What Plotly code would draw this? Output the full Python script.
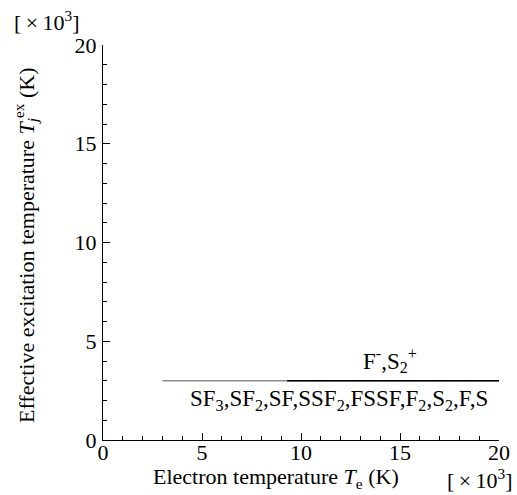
import plotly.graph_objects as go

# Data (x and y in units of 10^3 K)
group1_x = [3.0, 20.0]
group1_y = [3.0, 3.0]
group2_x = [9.3, 20.0]
group2_y = [3.0, 3.0]
label1 = "SF<sub>3</sub>,SF<sub>2</sub>,SF,SSF<sub>2</sub>,FSSF,F<sub>2</sub>,S<sub>2</sub>,F,S"
label2 = "F<sup>-</sup>,S<sub>2</sub><sup>+</sup>"
x_ticks = [0, 5, 10, 15, 20]
y_ticks = [0, 5, 10, 15, 20]

FONT = "Liberation Serif"
FS = 22

fig = go.Figure()
fig.add_trace(go.Scatter(x=group1_x, y=group1_y, mode="lines",
                         line=dict(color="#8c8c8c", width=1.5), showlegend=False))
fig.add_trace(go.Scatter(x=group2_x, y=group2_y, mode="lines",
                         line=dict(color="black", width=1.5), showlegend=False))

axis_common = dict(
    showgrid=False, zeroline=False, showline=True, linecolor="black", linewidth=1,
    ticks="inside", ticklen=7, tickwidth=1.2, tickcolor="black", mirror=False,
    automargin=False,
    tickfont=dict(family=FONT, size=FS, color="black"),
    minor=dict(tick0=0, dtick=1, ticks="inside", ticklen=4, tickwidth=1,
               tickcolor="black", showgrid=False),
)
fig.update_xaxes(range=[0, 20], tickmode="array", tickvals=x_ticks,
                 ticktext=[str(v) for v in x_ticks], ticklabelstandoff=-7, **axis_common)
fig.update_yaxes(range=[0, 20], tickmode="array", tickvals=y_ticks,
                 ticktext=[str(v) for v in y_ticks], ticklabelstandoff=1, **axis_common)

fig.add_annotation(x=14.5, y=3.0, xref="x", yref="y", text=label2, showarrow=False,
                   yanchor="bottom", yshift=3, font=dict(family=FONT, size=23, color="black"))
fig.add_annotation(x=11.9, y=3.0, xref="x", yref="y", text=label1, showarrow=False,
                   yanchor="top", yshift=-3, font=dict(family=FONT, size=23, color="black"))

fig.add_annotation(x=0.437, y=-0.095, xref="paper", yref="paper",
                   text="Electron temperature <i>T</i><sub>e</sub> (K)", showarrow=False,
                   xanchor="center", yanchor="middle", font=dict(family=FONT, size=FS, color="black"))
fig.add_annotation(x=-0.194, y=0.494, xref="paper", yref="paper",
                   text="Effective excitation temperature <i>T</i><sub><i>j</i></sub><sup>ex</sup> (K)",
                   showarrow=False, textangle=-90, xanchor="center", yanchor="middle",
                   font=dict(family=FONT, size=FS, color="black"))
fig.add_annotation(x=0.952, y=-0.098, xref="paper", yref="paper",
                   text="[\u2009×\u200910<sup>3</sup>]", showarrow=False, xanchor="center", yanchor="middle",
                   font=dict(family=FONT, size=FS, color="black"))
fig.add_annotation(x=-0.142, y=1.061, xref="paper", yref="paper",
                   text="[\u2009×\u200910<sup>3</sup>]", showarrow=False, xanchor="center", yanchor="middle",
                   font=dict(family=FONT, size=FS, color="black"))

fig.update_layout(template="none", width=517, height=495,
                  margin=dict(l=103, r=18, t=45, b=55, autoexpand=False),
                  plot_bgcolor="white", paper_bgcolor="white")
fig.write_html("out.html")
